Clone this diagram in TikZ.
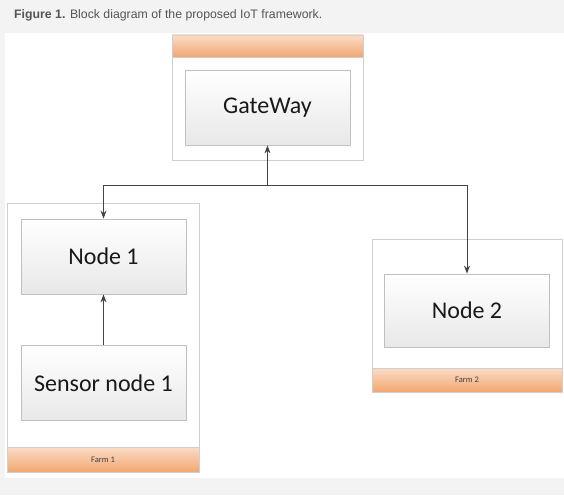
\documentclass[tikz,border=0pt]{standalone}
\usepackage{fontspec}
\setmainfont{Carlito}
\newfontfamily\arialf{Liberation Sans}
\usetikzlibrary{arrows.meta}
\definecolor{bggray}{HTML}{F3F3F3}
\definecolor{boxline}{HTML}{C0C0C0}
\definecolor{outline}{HTML}{CFCFCF}
\definecolor{orTop}{HTML}{FBDCC6}
\definecolor{orBot}{HTML}{F2A771}
\definecolor{arrcol}{HTML}{444444}
\definecolor{titlecol}{HTML}{555555}
\tikzset{
  inbox/.style={draw=boxline, line width=0.8pt, top color=white, bottom color=black!9, shading=axis,
    minimum width=165pt, minimum height=75pt, inner sep=0pt, font=\fontsize{24}{28}\selectfont, text=black!90},
  outbox/.style={draw=outline, line width=0.8pt, fill=white, inner sep=0pt},
  farmbar/.style={draw=outline, line width=0.6pt, top color=orTop, bottom color=orBot, shading=axis,
    inner sep=0pt, font=\fontsize{8.5}{9}\selectfont, text=black!75},
  conn/.style={draw=arrcol, line width=1pt, -{Stealth[length=8pt,width=6pt]}}
}
\begin{document}
\begin{tikzpicture}[x=1pt,y=-1pt]
\useasboundingbox (0,0) rectangle (564,495);
\fill[bggray] (0,0) rectangle (564,495);
\fill[white] (5,33) rectangle (564,478);
\node[anchor=base west, inner sep=0pt, font=\arialf\fontsize{12.3}{14}\selectfont, text=titlecol] (title) at (14,19) {\textbf{Figure 1.} Block diagram of the proposed IoT framework.};
% Gateway
\node[outbox, minimum width=191pt, minimum height=125pt] (gwo) at (267.5,97.5) {};
\node[farmbar, minimum width=191pt, minimum height=22pt] (gwbar) at (267.5,46) {};
\node[inbox] (gw) at (267.5,107.5) {GateWay};
% Farm 1
\node[outbox, minimum width=192pt, minimum height=269pt] (f1) at (103,337.5) {};
\node[farmbar, minimum width=192pt, minimum height=25pt] (f1bar) at (103,459.5) {Farm 1};
\node[inbox] (n1) at (103.5,256.5) {Node 1};
\node[inbox] (s1) at (103.5,383) {Sensor node 1};
% Farm 2
\node[outbox, minimum width=190pt, minimum height=153pt] (f2) at (467,315.5) {};
\node[farmbar, minimum width=190pt, minimum height=24pt] (f2bar) at (467,380) {Farm 2};
\node[inbox, minimum height=73pt] (n2) at (467,310.5) {Node 2};
% connectors
\coordinate (j) at (267.5,185);
\draw[conn] (j) -- (gw.south);
\draw[conn] (j) -| (n1.north);
\draw[conn] (j) -| (n2.north);
\draw[conn] (s1.north) -- (n1.south);
\end{tikzpicture}
\end{document}
